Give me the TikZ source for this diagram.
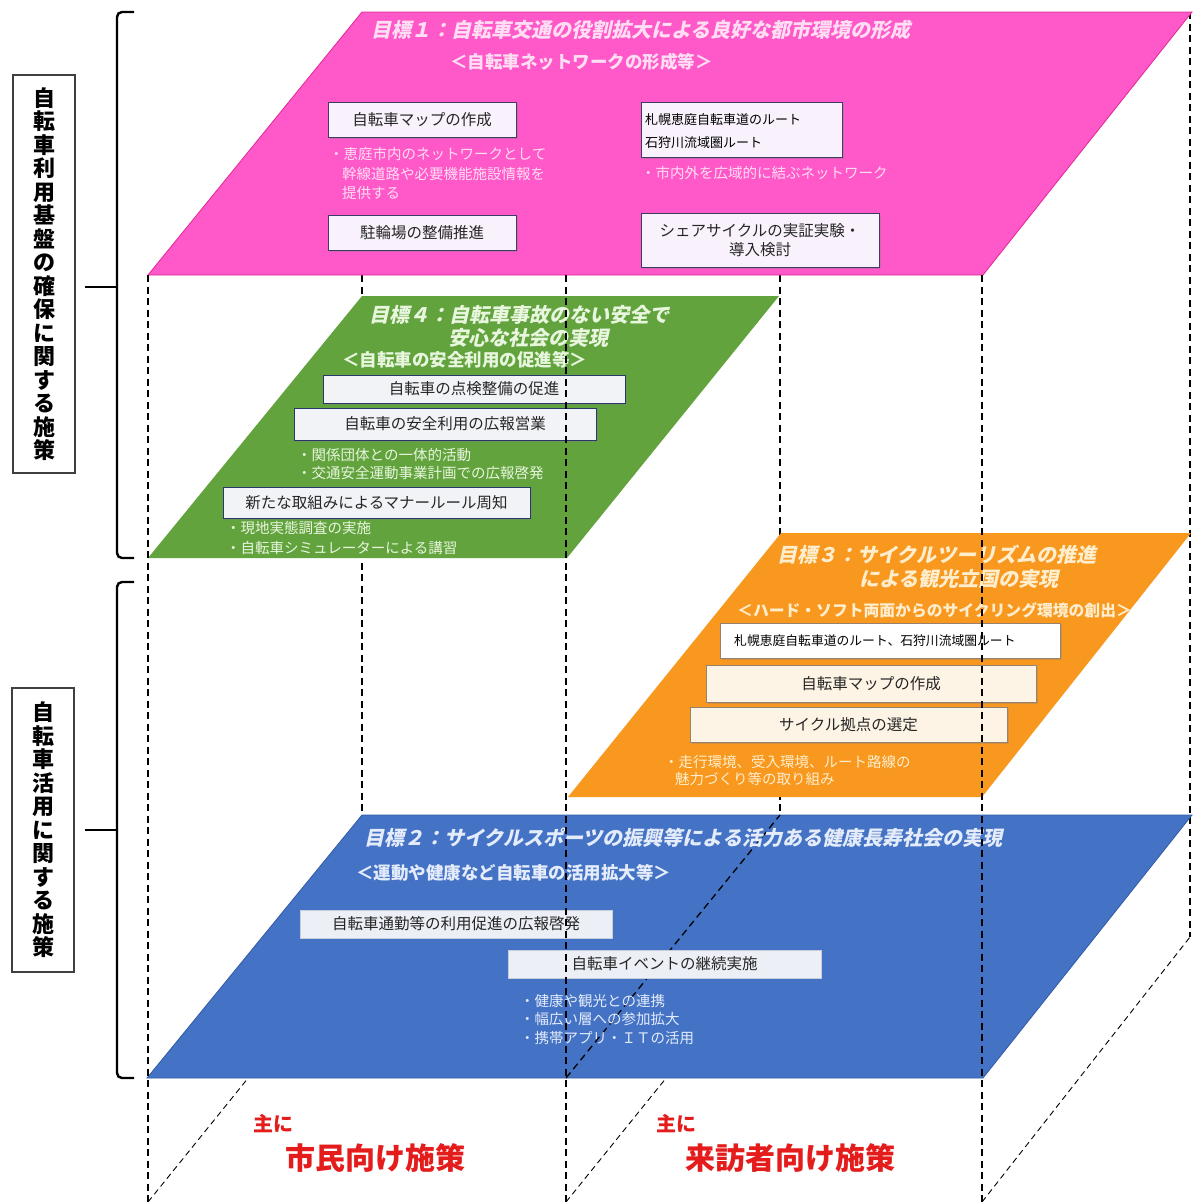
\documentclass[tikz,border=0pt]{standalone}
\usepackage{fontspec}
\setmainfont{Noto Sans CJK JP}
\newfontfamily\jpsl{Noto Sans CJK JP}[FakeSlant=0.22]
\usetikzlibrary{shadows}
\definecolor{pinkP}{RGB}{255,88,200}
\definecolor{pinkD}{RGB}{225,40,150}
\definecolor{pinkT}{RGB}{255,222,244}
\definecolor{greenP}{RGB}{98,163,62}
\definecolor{greenT}{RGB}{232,246,222}
\definecolor{orangeP}{RGB}{248,152,30}
\definecolor{orangeT}{RGB}{255,238,205}
\definecolor{blueP}{RGB}{68,114,196}
\definecolor{blueD}{RGB}{50,90,165}
\definecolor{blueT}{RGB}{228,236,252}
\definecolor{boxline}{RGB}{60,60,100}
\definecolor{redT}{RGB}{228,28,28}
\begin{document}
\begin{tikzpicture}[x=1pt,y=-1pt,
  vdash/.style={dash pattern=on 7pt off 4.5pt, line width=1.5pt, black},
  fdash/.style={dash pattern=on 6pt off 4pt, line width=0.9pt, black},
  brk/.style={line width=2.4pt, black, rounded corners=5pt},
  ibox/.style={anchor=north west, inner sep=0pt, outer sep=0pt, align=center,
     font=\fontsize{15.5}{19}\selectfont, text=black!85},
  pbox/.style={ibox, draw=boxline, line width=1pt, fill={rgb,255:red,249;green,242;blue,252},
     drop shadow={shadow xshift=2pt, shadow yshift=-2pt, opacity=0.35}},
  gbox/.style={ibox, draw={rgb,255:red,40;green,55;blue,110}, line width=1pt, fill={rgb,255:red,242;green,243;blue,246},
     drop shadow={shadow xshift=2pt, shadow yshift=-2pt, opacity=0.3}},
  obox/.style={ibox, draw={rgb,255:red,150;green,130;blue,110}, line width=0.8pt, fill={rgb,255:red,253;green,244;blue,230},
     drop shadow={shadow xshift=2pt, shadow yshift=-2pt, opacity=0.3}},
  bbox/.style={ibox, draw={rgb,255:red,200;green,205;blue,220}, line width=0.6pt, fill={rgb,255:red,236;green,239;blue,246}},
  ttl/.style={anchor=west, inner sep=0pt, font=\jpsl\bfseries\fontsize{20}{24}\selectfont},
  sub/.style={anchor=west, inner sep=0pt, font=\bfseries\fontsize{17.5}{20}\selectfont, text=white},
  bul/.style={anchor=west, inner sep=0pt, font=\fontsize{14.5}{18}\selectfont},
  lbl/.style={draw=black!75, line width=1.1pt, fill=white, inner sep=0pt, align=center,
     minimum width=62pt, font=\bfseries\fontsize{22}{23.5}\selectfont},
  redl/.style={inner sep=0pt, text=redT, font=\bfseries\fontsize{20}{24}\selectfont},
  redb/.style={inner sep=0pt, text=redT, font=\bfseries\fontsize{30}{34}\selectfont}
]
\useasboundingbox (0,0) rectangle (1194,1202);
\fill[white] (0,0) rectangle (1194,1202);

% ---- key coordinates ----
\coordinate (fl1) at (148,1202); \coordinate (bl1) at (362,937);
\coordinate (fl2) at (566,1202); \coordinate (bl2) at (780,937);
\coordinate (fl3) at (982,1202); \coordinate (bl3) at (1190,937);
\coordinate (bt1) at (362,275);  \coordinate (bt2) at (780,275); \coordinate (bt3) at (1190,12);
\coordinate (ft1) at (148,275);  \coordinate (ft2) at (566,275); \coordinate (ft3) at (982,275);

% ---- back (hidden) lines ----
\draw[fdash] (fl1) -- (bl1);
\draw[fdash] (fl2) -- (bl2);
\draw[fdash] (fl3) -- (bl3);
\draw[vdash] (bt1) -- (bl1);
\draw[vdash] (bt2) -- (bl2);
\draw[vdash] (bt3) -- (bl3);

% ---- pink plane (goal 1) ----
\fill[pinkP, draw=pinkD, line width=0.8pt] (362,12) -- (1192,12) -- (983,275) -- (148,275) -- cycle;
\node[ttl, text=pinkT] (t1) at (371,30) {目標１：自転車交通の役割拡大による良好な都市環境の形成};
\node[sub, text=pinkT] (s1) at (450,62) {＜自転車ネットワークの形成等＞};
\node[pbox, minimum width=188pt, minimum height=35pt] (p1) at (328,102) {自転車マップの作成};
\node[pbox, minimum width=201pt, minimum height=55pt] (p2) at (641,102) {};
\node[anchor=west, inner sep=0pt, font=\fontsize{13}{16}\selectfont] (p2a) at (645,120) {札幌恵庭自転車道のルート};
\node[anchor=west, inner sep=0pt, font=\fontsize{13}{16}\selectfont] (p2b) at (645,143) {石狩川流域圏ルート};
\node[bul, text=pinkT] (pb1) at (329,154) {・恵庭市内のネットワークとして};
\node[bul, text=pinkT] (pb2) at (342,174) {幹線道路や必要機能施設情報を};
\node[bul, text=pinkT] (pb3) at (342,193) {提供する};
\node[bul, text=pinkT] (pb4) at (641,173) {・市内外を広域的に結ぶネットワーク};
\node[pbox, minimum width=188pt, minimum height=35pt] (p3) at (328,215) {駐輪場の整備推進};
\node[pbox, minimum width=238pt, minimum height=54pt] (p4) at (641,213) {シェアサイクルの実証実験・\\導入検討};

% ---- green plane (goal 4) ----
\fill[greenP] (362,296) -- (779,296) -- (567,558) -- (148,558) -- cycle;
\node[ttl, text=greenT] (t4a) at (369,315) {目標４：自転車事故のない安全で};
\node[ttl, text=greenT] (t4b) at (448,338) {安心な社会の実現};
\node[sub, text=greenT] (s4) at (342,360) {＜自転車の安全利用の促進等＞};
\node[gbox, minimum width=302pt, minimum height=28pt] (g1) at (323,375) {自転車の点検整備の促進};
\node[gbox, minimum width=302pt, minimum height=32pt] (g2) at (294,408) {自転車の安全利用の広報営業};
\node[bul, text=greenT] (gb1) at (297,455) {・関係団体との一体的活動};
\node[bul, text=greenT] (gb2) at (297,473) {・交通安全運動事業計画での広報啓発};
\node[gbox, minimum width=307pt, minimum height=31pt] (g3) at (223,487) {新たな取組みによるマナールール周知};
\node[bul, text=greenT] (gb3) at (226,528) {・現地実態調査の実施};
\node[bul, text=greenT] (gb4) at (226,548) {・自転車シミュレーターによる講習};

% ---- orange plane (goal 3) ----
\fill[orangeP] (781,533) -- (1191,533) -- (982,797) -- (568,797) -- cycle;
\node[ttl, text=orangeT] (t3a) at (777,555) {目標３：サイクルツーリズムの推進};
\node[ttl, text=orangeT] (t3b) at (859,579) {による観光立国の実現};
\node[sub, text=orangeT, font=\bfseries\fontsize{15.8}{20}\selectfont] (s3) at (737,610) {＜ハード・ソフト両面からのサイクリング環境の創出＞};
\node[obox, fill=white, minimum width=340pt, minimum height=35pt] (o1) at (720,623) {};
\node[anchor=west, inner sep=0pt, font=\fontsize{12.8}{16}\selectfont] (o1a) at (734,641) {札幌恵庭自転車道のルート、石狩川流域圏ルート};
\node[obox, minimum width=330pt, minimum height=37pt] (o2) at (706,665) {自転車マップの作成};
\node[obox, minimum width=317pt, minimum height=35pt] (o3) at (690,707) {サイクル拠点の選定};
\node[bul, text=orangeT] (ob1) at (664,762) {・走行環境、受入環境、ルート路線の};
\node[bul, text=orangeT] (ob2) at (675,779) {魅力づくり等の取り組み};

% ---- blue plane (goal 2) ----
\fill[blueP, draw=blueD, line width=0.8pt] (362,815) -- (1192,815) -- (983,1078) -- (147,1078) -- cycle;
\coordinate (bm1) at (566,1078); \coordinate (bm2) at (780,815);
\draw[vdash, line width=1.3pt] (bm1) -- (bm2);
\node[ttl, text=blueT] (t2) at (364,838) {目標２：サイクルスポーツの振興等による活力ある健康長寿社会の実現};
\node[sub, text=blueT] (s2) at (356,873) {＜運動や健康など自転車の活用拡大等＞};
\node[bbox, minimum width=312pt, minimum height=28pt] (b1) at (300,910) {自転車通勤等の利用促進の広報啓発};
\node[bbox, minimum width=313pt, minimum height=28pt] (b2) at (508,950) {自転車イベントの継続実施};
\node[bul, text=blueT] (bb1) at (520,1001) {・健康や観光との連携};
\node[bul, text=blueT] (bb2) at (520,1019) {・幅広い層への参加拡大};
\node[bul, text=blueT] (bb3) at (520,1038) {・携帯アプリ・ＩＴの活用};

% ---- front vertical lines ----
\draw[vdash] (ft1) -- (fl1);
\draw[vdash] (ft2) -- (fl2);
\draw[vdash] (ft3) -- (fl3);

% ---- left labels and brackets ----
\node[lbl, minimum height=398pt] (L1) at (44,274) {自\\転\\車\\利\\用\\基\\盤\\の\\確\\保\\に\\関\\す\\る\\施\\策};
\node[lbl, minimum height=284pt] (L2) at (43,830) {自\\転\\車\\活\\用\\に\\関\\す\\る\\施\\策};
\coordinate (k1t) at (134,12); \coordinate (k1b) at (134,558); \coordinate (k1m) at (117,287);
\coordinate (k2t) at (134,582); \coordinate (k2b) at (134,1078); \coordinate (k2m) at (117,830);
\draw[brk] (k1t) -- (117,12) -- (117,558) -- (k1b);
\draw[brk] (k2t) -- (117,582) -- (117,1078) -- (k2b);
\draw[line width=2.4pt] (85,287) -- (k1m);
\draw[line width=2.4pt] (85,830) -- (k2m);

% ---- bottom labels ----
\node[redl] (m1) at (273,1124) {主に};
\node[redb] (m2) at (375,1158) {市民向け施策};
\node[redl] (v1) at (676,1124) {主に};
\node[redb] (v2) at (790,1158) {来訪者向け施策};
\end{tikzpicture}
\end{document}
